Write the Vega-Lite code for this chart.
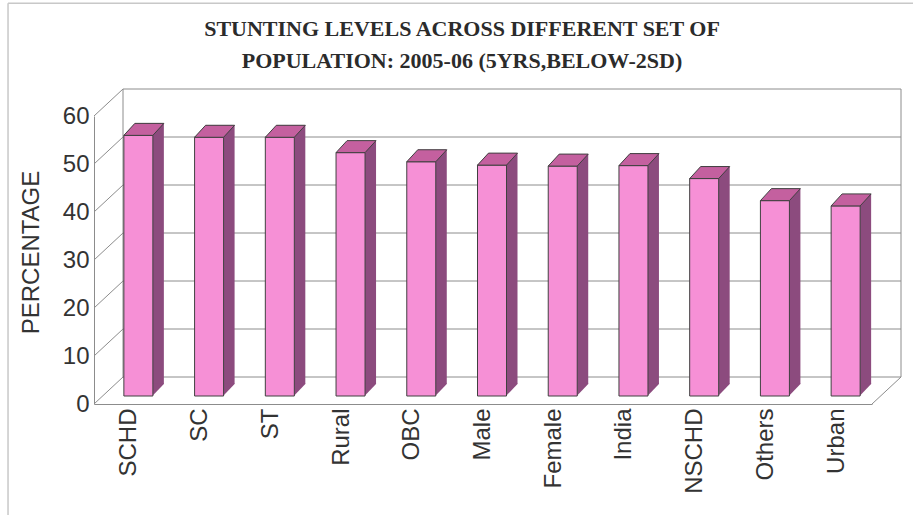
{
  "$schema": "https://vega.github.io/schema/vega-lite/v6.json",
  "width": 778,
  "height": 288,
  "autosize": {"type": "none"},
  "padding": {"left": 94, "top": 116, "right": 41, "bottom": 111},
  "background": "white",
  "title": {
    "text": ["STUNTING LEVELS ACROSS DIFFERENT SET OF", "POPULATION: 2005-06 (5YRS,BELOW-2SD)"],
    "font": "Liberation Serif",
    "fontSize": 22,
    "fontWeight": "bold",
    "color": "#2b2b2b",
    "anchor": "middle",
    "dx": -21,
    "offset": -71,
    "lineHeight": 32
  },
  "config": {
    "view": {"stroke": null},
    "font": "Liberation Sans",
    "axisY": {
      "grid": false,
      "ticks": false,
      "domainColor": "#8c8c8c",
      "labelFont": "Liberation Sans",
      "labelFontSize": 24,
      "labelColor": "#333333",
      "labelPadding": 5,
      "titleFont": "Liberation Sans",
      "titleFontSize": 24,
      "titleFontWeight": "normal",
      "titleColor": "#333333",
      "titlePadding": 19,
      "titleY": 136
    }
  },
  "layer": [
    {
      "data": {"values": [{"edge": "border"}]},
      "layer": [
        {
          "mark": {"type": "rule", "color": "#c8c8c8", "strokeWidth": 1.5},
          "encoding": {
            "x": {"datum": -0.1105, "type": "quantitative", "scale": {"domain": [0, 1]}, "axis": null},
            "x2": {"datum": 1.06},
            "y": {"datum": 83.5, "type": "quantitative", "scale": {"domain": [0, 60], "nice": false}, "axis": {"title": "PERCENTAGE", "grid": false}}
          }
        },
        {
          "mark": {"type": "rule", "color": "#c8c8c8", "strokeWidth": 1.5},
          "encoding": {
            "x": {"datum": -0.1105, "type": "quantitative", "scale": {"domain": [0, 1]}, "axis": null},
            "y": {"datum": 83.5, "type": "quantitative", "scale": {"domain": [0, 60], "nice": false}, "axis": {"title": "PERCENTAGE", "grid": false}},
            "y2": {"datum": -24}
          }
        }
      ]
    },
    {
      "data": {"values": [{"v": 0}, {"v": 10}, {"v": 20}, {"v": 30}, {"v": 40}, {"v": 50}, {"v": 60}]},
      "layer": [
        {
          "mark": {"type": "rule", "color": "#8c8c8c", "strokeWidth": 1, "xOffset": 29, "x2Offset": 29, "yOffset": -27},
          "encoding": {
            "x": {"datum": 0, "type": "quantitative", "scale": {"domain": [0, 1]}, "axis": null},
            "x2": {"datum": 1},
            "y": {"field": "v", "type": "quantitative", "scale": {"domain": [0, 60], "nice": false}, "axis": {"title": "PERCENTAGE", "grid": false}}
          }
        },
        {
          "mark": {"type": "rule", "color": "#8c8c8c", "strokeWidth": 1, "x2Offset": 29, "y2Offset": -27},
          "encoding": {
            "x": {"datum": 0, "type": "quantitative", "scale": {"domain": [0, 1]}, "axis": null},
            "x2": {"datum": 0},
            "y": {"field": "v", "type": "quantitative", "scale": {"domain": [0, 60], "nice": false}, "axis": {"title": "PERCENTAGE", "grid": false}},
            "y2": {"field": "v"}
          }
        }
      ]
    },
    {
      "data": {"values": [{"edge": "left"}]},
      "mark": {"type": "rule", "color": "#8c8c8c", "strokeWidth": 1, "xOffset": 29, "yOffset": -27, "y2Offset": -27},
      "encoding": {
        "x": {"datum": 0, "type": "quantitative", "scale": {"domain": [0, 1]}, "axis": null},
        "y": {"datum": 0, "type": "quantitative", "scale": {"domain": [0, 60], "nice": false}, "axis": {"title": "PERCENTAGE", "grid": false}},
        "y2": {"datum": 60}
      }
    },
    {
      "data": {"values": [{"edge": "right"}]},
      "mark": {"type": "rule", "color": "#8c8c8c", "strokeWidth": 1, "xOffset": 29, "yOffset": -27, "y2Offset": -27},
      "encoding": {
        "x": {"datum": 1, "type": "quantitative", "scale": {"domain": [0, 1]}, "axis": null},
        "y": {"datum": 0, "type": "quantitative", "scale": {"domain": [0, 60], "nice": false}, "axis": {"title": "PERCENTAGE", "grid": false}},
        "y2": {"datum": 60}
      }
    },
    {
      "data": {"values": [{"edge": "floor"}]},
      "mark": {"type": "rule", "color": "#8c8c8c", "strokeWidth": 1, "x2Offset": 29, "y2Offset": -27},
      "encoding": {
        "x": {"datum": 1, "type": "quantitative", "scale": {"domain": [0, 1]}, "axis": null},
        "x2": {"datum": 1},
        "y": {"datum": 0, "type": "quantitative", "scale": {"domain": [0, 60], "nice": false}, "axis": {"title": "PERCENTAGE", "grid": false}},
        "y2": {"datum": 0}
      }
    },
    {
      "data": {
        "values": [
          {"group": "SCHD", "value": 54.3},
          {"group": "SC", "value": 53.9},
          {"group": "ST", "value": 53.9},
          {"group": "Rural", "value": 50.7},
          {"group": "OBC", "value": 48.8},
          {"group": "Male", "value": 48.1},
          {"group": "Female", "value": 47.9},
          {"group": "India", "value": 48.0},
          {"group": "NSCHD", "value": 45.3},
          {"group": "Others", "value": 40.7},
          {"group": "Urban", "value": 39.6}
        ]
      },
      "encoding": {
        "x": {
          "field": "group",
          "type": "nominal",
          "sort": null,
          "scale": {"paddingInner": 0.59, "paddingOuter": 0.295},
          "axis": {
            "title": null,
            "labelAngle": -90,
            "labelFont": "Liberation Sans",
            "labelFontSize": 24,
            "labelColor": "#333333",
            "labelPadding": 4,
            "ticks": false,
            "domainColor": "#8c8c8c"
          }
        },
        "y": {
          "field": "value",
          "type": "quantitative",
          "scale": {"domain": [0, 60], "nice": false},
          "axis": {"title": "PERCENTAGE", "grid": false}
        }
      },
      "layer": [
        {"mark": {"type": "bar", "width": 29, "color": "#8c4b7e", "xOffset": 20, "yOffset": -20, "y2Offset": -20}},
        {
          "mark": {"type": "point", "shape": "M-1,-1.1L-1,1L0.917,-1L0.917,-1.1Z", "size": 144, "filled": true, "color": "#8c4b7e", "opacity": 1, "strokeWidth": 0, "xOffset": 29, "yOffset": -14},
          "encoding": {"y": {"datum": 0, "type": "quantitative", "scale": {"domain": [0, 60], "nice": false}, "axis": {"title": "PERCENTAGE", "grid": false}}}
        },
        {"mark": {"type": "bar", "width": 29, "fill": "#f690d6", "stroke": "#404040", "strokeWidth": 1, "xOffset": 9, "yOffset": -8, "y2Offset": -8}},
        {"mark": {"type": "point", "shape": "M-1,0.3L0.45,0.3L1,-0.3L-0.45,-0.3Z", "size": 1600, "filled": true, "fill": "#c4609f", "stroke": "#404040", "strokeWidth": 1, "opacity": 1, "xOffset": 14.5, "yOffset": -14}}
      ]
    }
  ],
  "resolve": {"scale": {"x": "independent"}}
}
